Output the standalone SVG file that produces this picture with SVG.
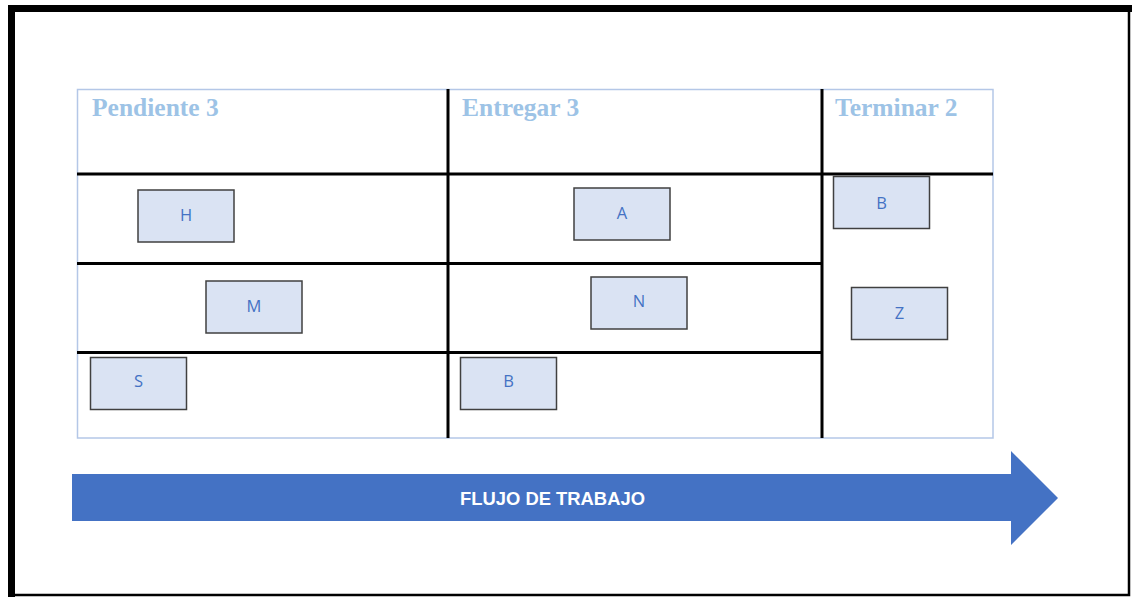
<svg xmlns="http://www.w3.org/2000/svg" width="1132" height="597" viewBox="0 0 1132 597">
<style>
.hdr{font-family:"Liberation Serif",serif;font-weight:bold;font-size:25.5px;fill:#9dc3e6}
.card rect{fill:#dae3f3;stroke:#404040;stroke-width:1.5}
.card text{font-family:"Open Sans","Liberation Sans",sans-serif;font-size:16.5px;fill:#4472c4;text-anchor:middle}
.grid{stroke:#000;stroke-width:3;fill:none}
</style>
<rect width="1132" height="597" fill="#fff"/>
<g id="frame">
<path d="M11.5 597 V8.5 H1132" fill="none" stroke="#000" stroke-width="7"/>
<path d="M1129 10 V595 H10" fill="none" stroke="#000" stroke-width="2.5"/>
</g>
<g id="board">
<rect x="77.5" y="89.5" width="915.5" height="348.5" fill="none" stroke="#b4c7e7" stroke-width="1.5"/>
<path class="grid" d="M77 174 H993 M77 263.5 H822 M77 352.5 H822 M448 89 V438 M822 89 V438"/>
<text class="hdr" x="92" y="116">Pendiente 3</text>
<text class="hdr" x="462" y="116">Entregar 3</text>
<text class="hdr" x="835" y="116">Terminar 2</text>
</g>
<g id="card-H" class="card"><rect x="138" y="190" width="96" height="52"/><text x="186" y="221">H</text></g>
<g id="card-M" class="card"><rect x="206" y="281" width="96" height="52"/><text x="254" y="311.5">M</text></g>
<g id="card-S" class="card"><rect x="90.5" y="357.5" width="96" height="52"/><text x="138.5" y="387">S</text></g>
<g id="card-A" class="card"><rect x="574" y="188" width="96" height="52"/><text x="622" y="219">A</text></g>
<g id="card-N" class="card"><rect x="591" y="277" width="96" height="52"/><text x="639" y="307">N</text></g>
<g id="card-B2" class="card"><rect x="460.5" y="357.5" width="96" height="52"/><text x="508.5" y="387">B</text></g>
<g id="card-B3" class="card"><rect x="833.5" y="176.5" width="96" height="52"/><text x="881.5" y="208.5">B</text></g>
<g id="card-Z" class="card"><rect x="851.5" y="287.5" width="96" height="52"/><text x="899.5" y="319">Z</text></g>
<g id="connectors">
<path d="M72 474 H1011 V451 L1058 498 L1011 545 V521 H72 Z" fill="#4472c4"/>
<text x="552.5" y="505" text-anchor="middle" font-family="Liberation Sans,sans-serif" font-weight="bold" font-size="18.4" fill="#fff">FLUJO DE TRABAJO</text>
</g>
</svg>
